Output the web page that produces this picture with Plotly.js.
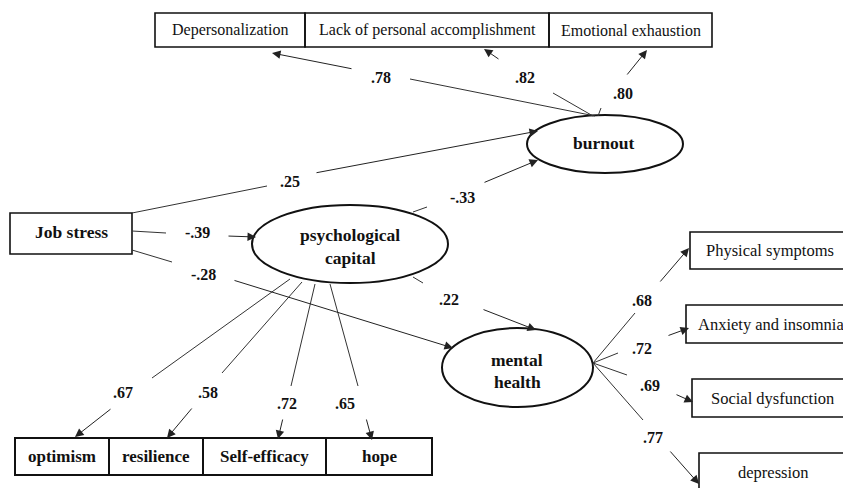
<!DOCTYPE html>
<html>
<head>
<meta charset="utf-8">
<script src="https://cdn.plot.ly/plotly-3.0.1.min.js"></script>
<style>html,body{margin:0;padding:0;background:#fff;}#chart{width:843px;height:488px;}</style>
</head>
<body>
<div id="chart"></div>
<script>
// ---------- DATA ----------
const latentNames = ["burnout", "psychological<br>capital", "mental<br>health"];
const observedName = "Job stress";

const burnoutIndicators = ["Depersonalization", "Lack of personal accomplishment", "Emotional exhaustion"];
const burnoutLoadings = [0.78, 0.82, 0.80];

const psycapIndicators = ["optimism", "resilience", "Self-efficacy", "hope"];
const psycapLoadings = [0.67, 0.58, 0.72, 0.65];

const mentalIndicators = ["Physical symptoms", "Anxiety and insomnia", "Social dysfunction", "depression"];
const mentalLoadings = [0.68, 0.72, 0.69, 0.77];

const pathLabels = ["Job stress → burnout", "Job stress → psychological capital", "Job stress → mental health",
                    "psychological capital → burnout", "psychological capital → mental health"];
const pathCoefs = [0.25, -0.39, -0.28, -0.33, 0.22];

// ---------- LAYOUT GEOMETRY (diagram positions, in axis units) ----------
const G = {
  topBoxes: {y: [13, 47], x: [[155, 305], [305, 549], [549, 712]]},
  jobBox: {x: [10, 132], y: [213, 254], tx: 71, ty: 232},
  bottomBoxes: {y: [438, 475], x: [[15, 109], [109, 203], [203, 326], [326, 432]]},
  rightBoxes: [
    {x: [690, 850], y: [232, 269], tx: 770, ty: 250},
    {x: [686, 850], y: [305, 343], tx: 771, ty: 324},
    {x: [692, 850], y: [379, 417], tx: 772, ty: 398},
    {x: [699, 850], y: [453, 495], tx: 773, ty: 472}
  ],
  ellipses: [
    {x: [527, 683], y: [115, 173], lines: [[603, 143]]},
    {x: [252, 448], y: [205, 283], lines: [[350, 235], [350, 258]]},
    {x: [442, 593], y: [328, 407], lines: [[517, 360], [517, 382]]}
  ],
  // each edge: start, end of first segment, label centre, start of arrow segment, arrow head
  burnoutEdges: [
    [[595,116],[410,79],[381,77],[353,69],[272,53]],
    [[593,116],[553,93],[525,77],[500,60],[484,49]],
    [[598,116],[601,108],[623,93],[626,76],[647,50]]
  ],
  psycapEdges: [
    [[290,279],[152,378],[123,392],[112,408],[75,437]],
    [[302,282],[222,373],[208,392],[193,407],[167,438]],
    [[315,284],[291,386],[287,403],[283,418],[278,439]],
    [[330,284],[358,386],[345,403],[366,418],[372,440]]
  ],
  mentalEdges: [
    [[593,363],[635,313],[642,300],[659,283],[689,248]],
    [[593,363],[618,353],[642,348],[667,336],[689,328]],
    [[593,363],[627,375],[650,385],[675,394],[693,402]],
    [[593,363],[643,420],[653,437],[669,450],[699,484]]
  ],
  pathEdges: [
    [[132,213],[267,186],[290,181],[315,173],[538,131]],
    [[132,231],[166,233],[197,232],[227,236],[256,237]],
    [[132,250],[172,262],[203,274],[233,280],[453,348]],
    [[413,212],[427,207],[462,197],[483,183],[538,160]],
    [[413,277],[423,283],[449,299],[482,309],[536,330]]
  ]
};

// ---------- BUILD ----------
const SERIF = "Liberation Serif";
const fmt = v => (v < 0 ? "-" : "") + Math.abs(v).toFixed(2).replace(/^0/, "");
const shapes = [];
const annotations = [];

function rect(x, y, w) {
  shapes.push({type: "rect", xref: "x", yref: "y", x0: x[0], x1: x[1], y0: y[0], y1: y[1],
    line: {color: "#111", width: w || 1.6}, fillcolor: "rgba(0,0,0,0)"});
}
function text(t, x, y, size, bold) {
  annotations.push({x: x, y: y, xref: "x", yref: "y", text: t,
    showarrow: false, xanchor: "center", yanchor: "middle",
    font: {family: SERIF, size: size, color: "#111", weight: bold ? "bold" : "normal"}});
}
function edge(e, value) {
  shapes.push({type: "line", xref: "x", yref: "y", x0: e[0][0], y0: e[0][1], x1: e[1][0], y1: e[1][1],
    line: {color: "#333", width: 1}});
  annotations.push({x: e[4][0], y: e[4][1], ax: e[3][0], ay: e[3][1], xref: "x", yref: "y",
    axref: "x", ayref: "y", text: "", showarrow: true, arrowhead: 2, arrowsize: 1.7,
    arrowwidth: 1, arrowcolor: "#222", standoff: 0, startstandoff: 0});
  text(fmt(value), e[2][0], e[2][1], 16, true);
}

// top boxes (burnout indicators)
burnoutIndicators.forEach((name, i) => {
  const bx = G.topBoxes.x[i];
  rect(bx, G.topBoxes.y);
  text(name, (bx[0] + bx[1]) / 2, 30, 16, false);
});
// job stress
rect(G.jobBox.x, G.jobBox.y);
text(observedName, G.jobBox.tx, G.jobBox.ty, 17.5, true);
// bottom boxes
psycapIndicators.forEach((name, i) => {
  const bx = G.bottomBoxes.x[i];
  rect(bx, G.bottomBoxes.y, 2);
  text(name, (bx[0] + bx[1]) / 2, 456, 17, true);
});
// right boxes
mentalIndicators.forEach((name, i) => {
  const b = G.rightBoxes[i];
  rect(b.x, b.y);
  text(name, b.tx, b.ty, 16.5, false);
});
// latent ellipses
latentNames.forEach((name, i) => {
  const el = G.ellipses[i];
  shapes.push({type: "circle", xref: "x", yref: "y", x0: el.x[0], x1: el.x[1], y0: el.y[0], y1: el.y[1],
    line: {color: "#111", width: 2}, fillcolor: "rgba(0,0,0,0)"});
  name.split("<br>").forEach((part, k) => text(part, el.lines[k][0], el.lines[k][1], 17.5, true));
});
// edges
burnoutLoadings.forEach((v, i) => edge(G.burnoutEdges[i], v));
psycapLoadings.forEach((v, i) => edge(G.psycapEdges[i], v));
mentalLoadings.forEach((v, i) => edge(G.mentalEdges[i], v));
pathCoefs.forEach((v, i) => edge(G.pathEdges[i], v));

const layout = {
  width: 843, height: 488,
  margin: {l: 0, r: 0, t: 0, b: 0, pad: 0},
  paper_bgcolor: "#fff", plot_bgcolor: "#fff",
  showlegend: false,
  xaxis: {range: [0, 843], visible: false, fixedrange: true},
  yaxis: {range: [488, 0], visible: false, fixedrange: true},
  shapes: shapes,
  annotations: annotations
};
Plotly.newPlot("chart", [{x: [], y: [], type: "scatter", mode: "markers", hoverinfo: "skip"}], layout,
  {displayModeBar: false, staticPlot: true});
</script>
</body>
</html>
